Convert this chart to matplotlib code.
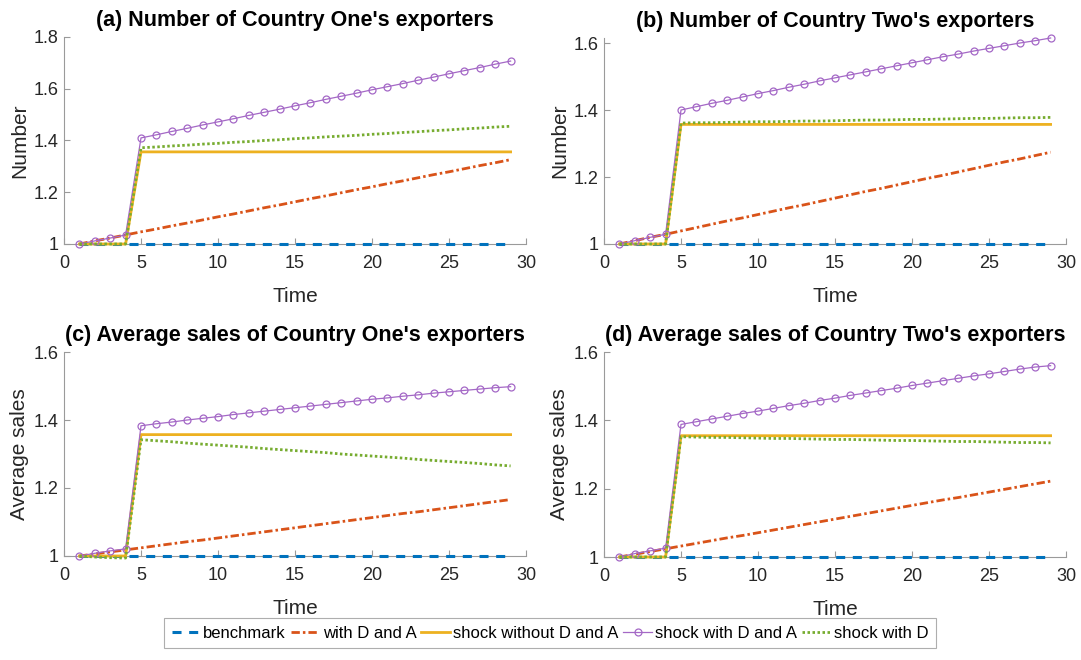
import matplotlib
matplotlib.use("Agg")
import matplotlib.pyplot as plt
from matplotlib.ticker import FormatStrFormatter

plt.rcParams['font.family'] = ['Liberation Sans', 'DejaVu Sans']
plt.rcParams['lines.scale_dashes'] = False

t = list(range(1, 30))

series_names = ["benchmark", "with D and A", "shock without D and A",
                "shock with D and A", "shock with D"]
titles = ["(a) Number of Country One's exporters",
          "(b) Number of Country Two's exporters",
          "(c) Average sales of Country One's exporters",
          "(d) Average sales of Country Two's exporters"]
ylabels = ["Number", "Number", "Average sales", "Average sales"]

bench = [1.0] * 29

# Panel (a)
orange_a = [1.000, 1.012, 1.023, 1.035, 1.047, 1.058, 1.070, 1.081, 1.093, 1.105,
            1.116, 1.128, 1.140, 1.151, 1.163, 1.175, 1.186, 1.198, 1.210, 1.221,
            1.233, 1.244, 1.256, 1.268, 1.279, 1.291, 1.303, 1.314, 1.326]
yellow_a = [1.0, 1.0, 1.0, 1.0] + [1.356] * 25
purple_a = [1.000, 1.012, 1.023, 1.035, 1.410, 1.422, 1.435, 1.447, 1.460, 1.472,
            1.484, 1.497, 1.509, 1.521, 1.534, 1.546, 1.559, 1.571, 1.583, 1.596,
            1.608, 1.620, 1.633, 1.645, 1.658, 1.670, 1.682, 1.695, 1.707]
green_a = [1.0, 1.0, 1.0, 1.0, 1.372, 1.375, 1.379, 1.382, 1.386, 1.389,
           1.393, 1.396, 1.400, 1.403, 1.407, 1.410, 1.414, 1.417, 1.420, 1.424,
           1.427, 1.431, 1.434, 1.438, 1.441, 1.445, 1.448, 1.452, 1.455]

# Panel (b)
orange_b = [1.000, 1.010, 1.020, 1.029, 1.039, 1.049, 1.059, 1.069, 1.078, 1.088,
            1.098, 1.108, 1.117, 1.127, 1.137, 1.147, 1.157, 1.166, 1.176, 1.186,
            1.196, 1.205, 1.215, 1.225, 1.235, 1.245, 1.254, 1.264, 1.274]
yellow_b = [1.0, 1.0, 1.0, 1.0] + [1.357] * 25
purple_b = [1.000, 1.010, 1.020, 1.029, 1.400, 1.410, 1.420, 1.429, 1.439, 1.449,
            1.458, 1.468, 1.477, 1.487, 1.496, 1.505, 1.514, 1.523, 1.532, 1.541,
            1.550, 1.559, 1.567, 1.576, 1.584, 1.592, 1.600, 1.607, 1.615]
green_b = [1.0, 1.0, 1.0, 1.0, 1.361, 1.362, 1.362, 1.363, 1.364, 1.365,
           1.365, 1.366, 1.367, 1.367, 1.368, 1.369, 1.370, 1.370, 1.371, 1.372,
           1.372, 1.373, 1.374, 1.375, 1.375, 1.376, 1.377, 1.377, 1.378]

# Panel (c)
orange_c = [1.000, 1.006, 1.012, 1.018, 1.024, 1.030, 1.036, 1.042, 1.047, 1.053,
            1.059, 1.065, 1.071, 1.077, 1.083, 1.089, 1.095, 1.101, 1.107, 1.113,
            1.119, 1.125, 1.130, 1.136, 1.142, 1.148, 1.154, 1.160, 1.166]
yellow_c = [1.0, 1.0, 1.0, 1.0] + [1.357] * 25
purple_c = [1.000, 1.008, 1.015, 1.021, 1.383, 1.389, 1.394, 1.400, 1.405, 1.410,
            1.416, 1.421, 1.426, 1.431, 1.436, 1.441, 1.446, 1.451, 1.456, 1.461,
            1.465, 1.470, 1.474, 1.479, 1.483, 1.487, 1.491, 1.495, 1.498]
green_c = [1.000, 0.997, 0.995, 0.994, 1.342, 1.339, 1.336, 1.332, 1.329, 1.326,
           1.323, 1.320, 1.316, 1.313, 1.310, 1.307, 1.304, 1.300, 1.297, 1.294,
           1.291, 1.288, 1.284, 1.281, 1.278, 1.275, 1.272, 1.268, 1.265]

# Panel (d)
orange_d = [1.000, 1.008, 1.016, 1.024, 1.032, 1.040, 1.048, 1.056, 1.063, 1.071,
            1.079, 1.087, 1.095, 1.103, 1.111, 1.119, 1.127, 1.135, 1.143, 1.151,
            1.159, 1.167, 1.174, 1.182, 1.190, 1.198, 1.206, 1.214, 1.222]
yellow_d = [1.0, 1.0, 1.0, 1.0] + [1.355] * 25
purple_d = [1.000, 1.010, 1.018, 1.026, 1.388, 1.396, 1.404, 1.412, 1.420, 1.427,
            1.435, 1.443, 1.450, 1.458, 1.465, 1.473, 1.480, 1.487, 1.494, 1.502,
            1.509, 1.516, 1.523, 1.530, 1.536, 1.543, 1.550, 1.556, 1.560]
green_d = [1.0, 1.0, 1.0, 1.0, 1.352, 1.351, 1.350, 1.350, 1.349, 1.348,
           1.347, 1.347, 1.346, 1.345, 1.344, 1.344, 1.343, 1.342, 1.341, 1.341,
           1.340, 1.339, 1.338, 1.338, 1.337, 1.336, 1.335, 1.335, 1.334]

panels = [
    (orange_a, yellow_a, purple_a, green_a),
    (orange_b, yellow_b, purple_b, green_b),
    (orange_c, yellow_c, purple_c, green_c),
    (orange_d, yellow_d, purple_d, green_d),
]
ylims = [(1, 1.8), (1, 1.615), (1, 1.6), (1, 1.6)]
yticks = [[1, 1.2, 1.4, 1.6, 1.8], [1, 1.2, 1.4, 1.6], [1, 1.2, 1.4, 1.6], [1, 1.2, 1.4, 1.6]]

W, H = 1081, 660
fig = plt.figure(figsize=(W / 100, H / 100), dpi=100)

def rect(l, r, top, bot):
    return [l / W, 1 - bot / H, (r - l) / W, (bot - top) / H]

rects = [rect(64, 526, 37, 244), rect(604, 1066, 38, 244),
         rect(64, 526, 352, 556), rect(604, 1066, 352, 557)]

c_blue, c_orange, c_yellow, c_purple, c_green = "#0072BD", "#D95319", "#EDB120", "#A468C6", "#77AC30"
spine_col = "#9a9a9a"
txt_col = "#262626"

handles = None
for i, (o, y, p, g) in enumerate(panels):
    ax = fig.add_axes(rects[i])
    kw = dict(clip_on=False, zorder=3)
    h1, = ax.plot(t, bench, color=c_blue, lw=2.2, dashes=(6.5, 5.5), **kw)
    h2, = ax.plot(t, o, color=c_orange, lw=2.0, dashes=(6, 2.2, 1.8, 2.2), **kw)
    h3, = ax.plot(t, y, color=c_yellow, lw=2.0, **kw)
    h4, = ax.plot(t, p, color=c_purple, lw=0.9, marker='o', ms=5, mfc='none',
                  mec=c_purple, mew=0.9, **kw)
    h5, = ax.plot(t, g, color=c_green, lw=2.0, dashes=(1.8, 1.8), **kw)
    handles = [h1, h2, h3, h4, h5]
    ax.set_xlim(0, 30)
    ax.set_ylim(*ylims[i])
    ax.set_xticks([0, 5, 10, 15, 20, 25, 30])
    ax.set_yticks(yticks[i])
    ax.yaxis.set_major_formatter(FormatStrFormatter('%g'))
    for s in ['top', 'right']:
        ax.spines[s].set_visible(False)
    for s in ['left', 'bottom']:
        ax.spines[s].set_color(spine_col)
        ax.spines[s].set_linewidth(0.8)
        ax.spines[s].set_zorder(1)
    ax.tick_params(direction='in', length=4, width=0.8, color=spine_col,
                   labelsize=13, labelcolor=txt_col)
    ax.tick_params(axis='x', pad=8)
    ax.tick_params(axis='y', pad=4)
    ax.set_title(titles[i], fontsize=15.5, fontweight='bold', pad=8)
    ax.set_xlabel("Time", fontsize=15, color=txt_col, labelpad=11)
    ax.set_ylabel(ylabels[i], fontsize=15, color=txt_col)
    ax.yaxis.set_label_coords(-0.076, 0.5)

leg = fig.legend(handles, series_names, loc='center', bbox_to_anchor=(550 / W, 1 - 633 / H),
                 ncol=5, fontsize=12, frameon=True, fancybox=False, handlelength=1.7,
                 handletextpad=0.2, columnspacing=0.3, borderpad=0.45, borderaxespad=0)
leg.get_frame().set_edgecolor('#9a9a9a')
leg.get_frame().set_linewidth(0.8)

fig.savefig("out.png", dpi=100)
